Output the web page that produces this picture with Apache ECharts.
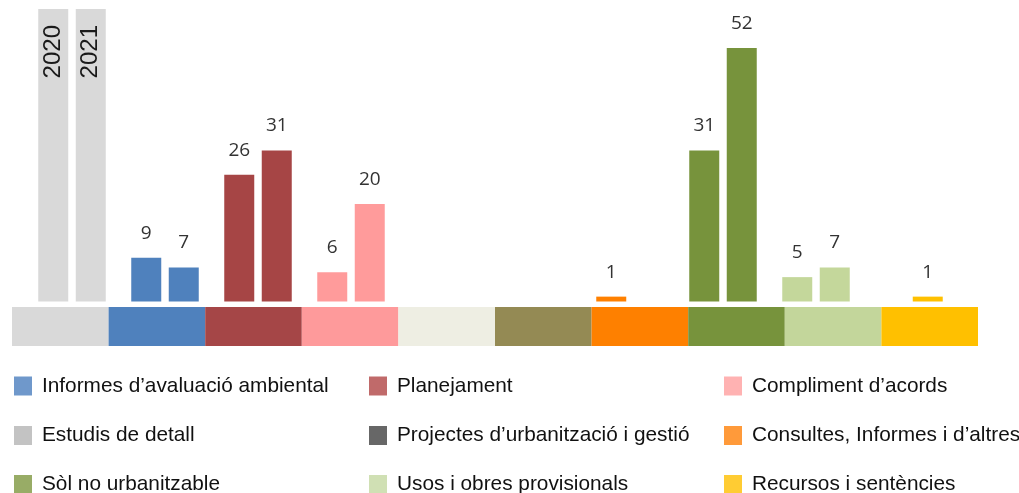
<!DOCTYPE html>
<html>
<head>
<meta charset="utf-8">
<script src="https://cdn.jsdelivr.net/npm/echarts@6/dist/echarts.min.js"></script>
<style>
  html, body { margin: 0; padding: 0; background: #ffffff; }
  #chart { width: 1019px; height: 493px; }
</style>
</head>
<body>
<div id="chart"></div>
<script>
// ---- data ----
const categories = ['Estudis de detall', 'Informes d’avaluació ambiental', 'Planejament', 'Compliment d’acords', 'Altres',
  'Projectes d’urbanització i gestió', 'Consultes, Informes i d’altres', 'Sòl no urbanitzable', 'Usos i obres provisionals', 'Recursos i sentències'];
const years = ['2020', '2021'];
const values2020 = [null, 9, 26, 6, 0, 0, 1, 31, 5, 0];
const values2021 = [null, 7, 31, 20, 0, 0, 0, 52, 7, 1];
const yearHeaderValue = 60;           // grey header bars carrying the year labels
const bandValues = [1, 1, 1, 1, 1, 1, 1, 1, 1, 1];
const legendNames = [
  ['Informes d’avaluació ambiental', 'Estudis de detall', 'Sòl no urbanitzable'],
  ['Planejament', 'Projectes d’urbanització i gestió', 'Usos i obres provisionals'],
  ['Compliment d’acords', 'Consultes, Informes i d’altres', 'Recursos i sentències']
];

// ---- styles ----
const barColors = ['#d9d9d9', '#4f81bd', '#a64545', '#ff9b9b', '#eeeee4', '#948a54', '#ff8000', '#77933c', '#c4d79b', '#ffc000'];
const bandColors = ['#d9d9d9', '#4f81bd', '#a54647', '#fe9a9b', '#eeeee3', '#948a54', '#fe8000', '#77933c', '#c3d69b', '#ffc000'];
const legendColors = [
  ['#6f98cb', '#c3c3c3', '#98ac66'],
  ['#c06a6a', '#676767', '#d0e0b4'],
  ['#ffb2b2', '#ff9a3a', '#ffcc33']
];
const legendLeft = [14, 369, 724];
const legendTop = [375.5, 425, 474];

const chart = echarts.init(document.getElementById('chart'));

function buildYear(values, yi) {
  return values.map((v, i) => {
    if (i === 0) {
      return {
        value: yearHeaderValue,
        itemStyle: { color: barColors[0] },
        label: {
          show: true, formatter: years[yi], position: 'insideTop', rotate: 90,
          align: 'right', verticalAlign: 'middle', distance: 16,
          fontSize: 24, fontFamily: 'Liberation Sans', color: '#1a1a1a'
        }
      };
    }
    return { value: v, itemStyle: { color: barColors[i] } };
  });
}

const valueLabel = {
  show: true, position: 'top', distance: 15,
  fontSize: 19, fontFamily: 'Open Sans', color: '#333333',
  formatter: p => (p.value ? String(p.value) : '')
};

const series = [
  { name: years[0], type: 'bar', xAxisIndex: 0, yAxisIndex: 0, barWidth: 30, barGap: '25%',
    data: buildYear(values2020, 0), label: valueLabel },
  { name: years[1], type: 'bar', xAxisIndex: 0, yAxisIndex: 0, barWidth: 30, barGap: '25%',
    data: buildYear(values2021, 1), label: valueLabel },
  { name: 'band', type: 'bar', xAxisIndex: 1, yAxisIndex: 1, barWidth: '100%',
    data: bandValues.map((v, i) => ({ value: v, itemStyle: { color: bandColors[i] } })) }
];

const legends = [];
legendNames.forEach((col, c) => {
  col.forEach((name, r) => {
    series.push({ name: name, type: 'line', data: [], xAxisIndex: 0, yAxisIndex: 0,
      itemStyle: { color: legendColors[c][r] }, lineStyle: { color: legendColors[c][r] } });
    legends.push({
      data: [name], orient: 'horizontal', left: legendLeft[c], top: legendTop[r], padding: 0,
      icon: 'rect', itemWidth: 18, itemHeight: 19, selectedMode: false,
      textStyle: { fontSize: 20.8, fontFamily: 'Liberation Sans', color: '#111', lineHeight: 21, padding: [0, 0, 0, 5] }
    });
  });
});

chart.setOption({
  animation: false,
  backgroundColor: '#ffffff',
  grid: [
    { left: 25.5, width: 930, top: 9, height: 292.5 },
    { left: 12, width: 966, top: 307, height: 39 }
  ],
  xAxis: [
    { type: 'category', gridIndex: 0, data: categories, show: false },
    { type: 'category', gridIndex: 1, data: categories, show: false }
  ],
  yAxis: [
    { type: 'value', gridIndex: 0, min: 0, max: 60, show: false },
    { type: 'value', gridIndex: 1, min: 0, max: 1, show: false }
  ],
  legend: legends,
  series: series
});
</script>
</body>
</html>
